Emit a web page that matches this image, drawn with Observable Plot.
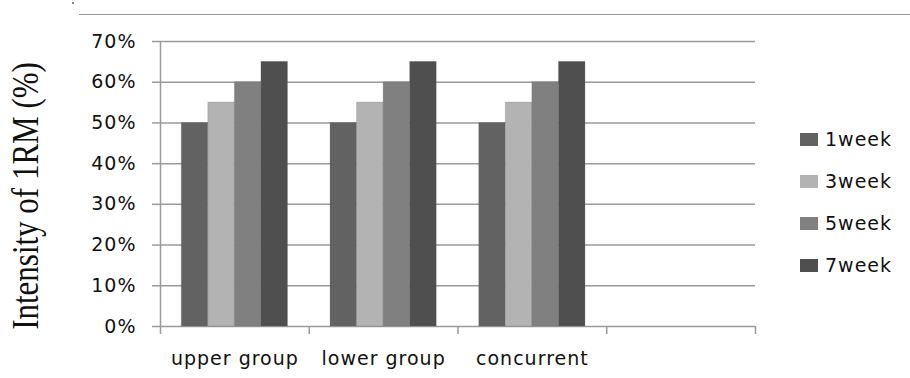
<!DOCTYPE html>
<html>
<head>
<meta charset="utf-8">
<script src="https://cdn.jsdelivr.net/npm/d3@7"></script>
<script src="https://cdn.jsdelivr.net/npm/@observablehq/plot@0.6"></script>
<style>
  html, body { margin: 0; padding: 0; background: #fff; }
  #wrap { position: relative; width: 910px; height: 378px; overflow: hidden; }
  #topline { position: absolute; left: 79px; top: 14px; width: 831px; border-top: 1.5px solid #9a9a9a; }
  #dot { position: absolute; left: 72px; top: 2px; width: 2px; height: 2px; background: #888; }
  #legend { position: absolute; left: 800px; top: 0; font-family: "DejaVu Sans", sans-serif; font-size: 19px; color: #111; letter-spacing: 1px; }
  .item { position: absolute; left: 0; display: flex; align-items: center; white-space: nowrap; }
  .sw { width: 18px; height: 13px; margin-right: 7px; }
</style>
</head>
<body>
<div id="wrap">
  <div id="chart"></div>
  <div id="topline"></div>
  <div id="dot"></div>
  <div id="legend"></div>
</div>
<script>
// Categories along the x axis (the fourth slot is left empty)
const groups = ["upper group", "lower group", "concurrent", ""];
// Training weeks (series) and their fills
const weeks = ["1week", "3week", "5week", "7week"];
const weekColors = ["#626262", "#b3b3b3", "#808080", "#4f4f4f"];
// Intensity of 1RM per group, in week order
const upperGroup = [0.50, 0.55, 0.60, 0.65];
const lowerGroup = [0.50, 0.55, 0.60, 0.65];
const concurrent = [0.50, 0.55, 0.60, 0.65];
// Y axis ticks
const yTicks = [0, 0.1, 0.2, 0.3, 0.4, 0.5, 0.6, 0.7];

const seriesByGroup = [upperGroup, lowerGroup, concurrent];
const table = [];
seriesByGroup.forEach((vals, gi) => {
  vals.forEach((v, si) => table.push({group: groups[gi], gi, week: weeks[si], si, value: v}));
});

// Each category occupies one unit on x; bars sit side by side inside it
const pad = 0.143;
const bw = (1 - 2 * pad) / weeks.length;
const grid = "#9a9a9a";

const chart = Plot.plot({
  width: 910,
  height: 378,
  marginLeft: 160,
  marginRight: 155,
  marginTop: 41,
  marginBottom: 52,
  x: {type: "linear", domain: [0, groups.length], axis: null},
  y: {domain: [0, 0.7], axis: null},
  color: {domain: weeks, range: weekColors},
  style: {fontFamily: "DejaVu Sans, sans-serif", fontSize: "19px", color: "#111", background: "white", letterSpacing: "1px"},
  marks: [
    Plot.gridY(yTicks, {stroke: grid, strokeOpacity: 1, strokeWidth: 1.5}),
    Plot.axisY(yTicks, {tickSize: 8, tickPadding: 16, stroke: grid, strokeWidth: 1.5, tickFormat: d3.format(".0%"), label: null}),
    Plot.ruleX([0], {y1: 0, y2: 0.7, stroke: grid, strokeWidth: 1.5}),
    Plot.axisX(d3.range(groups.length + 1), {tickSize: 8, stroke: grid, strokeWidth: 1.5, tickFormat: () => "", label: null}),
    Plot.axisX(d3.range(groups.length).map(i => i + 0.5), {tickSize: 0, tickPadding: 25, tickFormat: d => groups[Math.floor(d)], label: null}),
    Plot.rectY(table, {
      x1: d => d.gi + pad + d.si * bw,
      x2: d => d.gi + pad + (d.si + 1) * bw,
      y1: 0,
      y2: "value",
      fill: "week",
      stroke: "#6a6a6a",
      strokeOpacity: 0.25,
      strokeWidth: 1
    })
  ]
});
document.getElementById("chart").appendChild(chart);

// Rotated serif y-axis title
d3.select(chart).append("text")
  .attr("transform", "translate(38,196) rotate(-90) scale(1,1.25)")
  .attr("text-anchor", "middle")
  .style("font-family", "'Liberation Serif', 'DejaVu Serif', serif")
  .style("font-size", "31px")
  .style("letter-spacing", "0px")
  .attr("fill", "#111")
  .text("Intensity of 1RM (%)");

// Legend on the right, one row per week
const legend = d3.select("#legend");
weeks.forEach((w, i) => {
  const item = legend.append("div").attr("class", "item").style("top", (128 + i * 42) + "px");
  item.append("div").attr("class", "sw").style("background", weekColors[i]);
  item.append("span").text(w);
});
</script>
</body>
</html>
